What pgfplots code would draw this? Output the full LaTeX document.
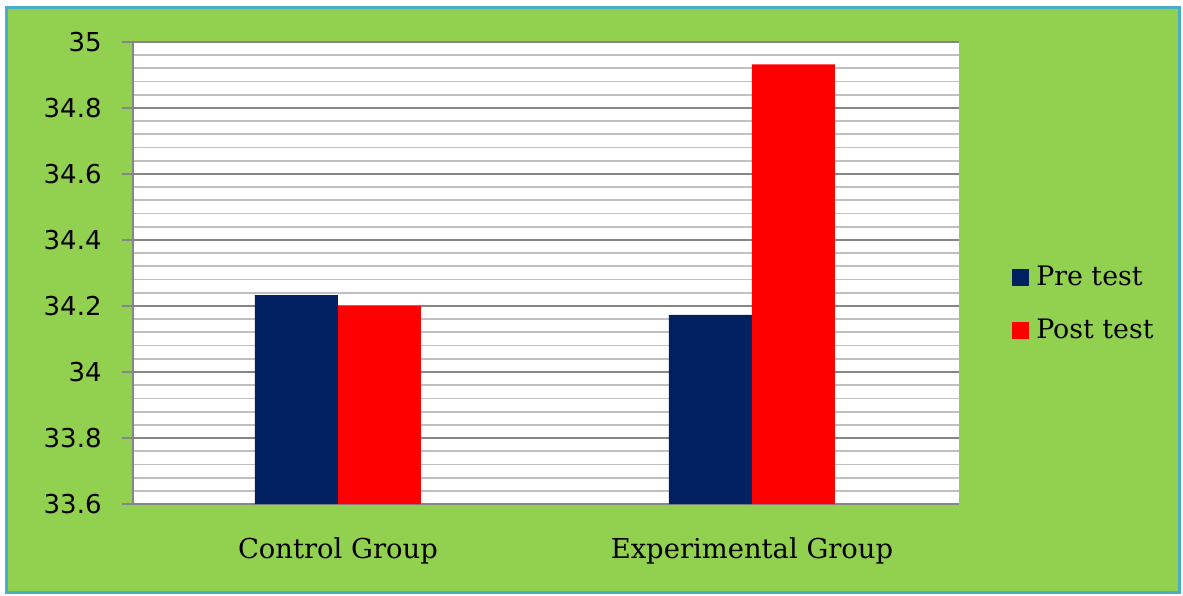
\documentclass[border=0pt]{standalone}
\usepackage{pgfplots}
\pgfplotsset{compat=1.18}
\usepackage{fontspec}
\setmainfont{DejaVu Serif}
\newfontfamily\tickfont{DejaVu Sans}
\definecolor{bggreen}{HTML}{92D050}
\definecolor{frameblue}{HTML}{4BACC6}
\definecolor{prenavy}{HTML}{002060}
\definecolor{postred}{HTML}{FF0000}
\definecolor{majgrid}{HTML}{868686}
\definecolor{mingrid}{HTML}{C0C0C0}
\begin{document}
\begin{tikzpicture}
\fill[white] (0pt,0pt) rectangle (591.5pt,297.5pt);
\filldraw[fill=bggreen, draw=frameblue, line width=1.5pt] (3pt,1.5pt) rectangle (589.5pt,293.5pt);
\begin{axis}[
  at={(66.5pt,45.5pt)}, anchor=south west,
  scale only axis,
  width=413pt, height=231pt,
  ybar=0pt, bar width=41.5pt,
  xmin=-0.495, xmax=1.5,
  ymin=33.6, ymax=35,
  xtick={0,1},
  xticklabels={Control Group, Experimental Group},
  ytick={33.6,33.8,34,34.2,34.4,34.6,34.8,35},
  minor y tick num=4,
  ymajorgrids, yminorgrids,
  major grid style={majgrid, line width=0.8pt},
  minor grid style={mingrid, line width=0.9pt},
  axis x line*=bottom, axis y line*=left,
  axis line style={majgrid, line width=0.8pt, -},
  tick align=outside,
  major tick length=5.5pt,
  minor tick length=0pt,
  xtick style={draw=none},
  ytick style={majgrid, line width=0.8pt},
  axis background/.style={fill=white},
  /pgf/number format/assume math mode=true,
  yticklabel style={font=\tickfont\fontsize{13}{15}\selectfont, anchor=east, inner sep=0pt, xshift=-10pt},
  xticklabel style={font=\fontsize{13.7}{16}\selectfont, anchor=center, inner sep=0pt, yshift=-18pt},
  legend style={at={(1.064,0.433)}, anchor=west, draw=none, fill=none,
    font=\fontsize{13.4}{16}\selectfont, row sep=11pt, inner sep=0pt,
    /tikz/every odd column/.style={column sep=1.5pt}},
  legend cell align=left,
  legend image code/.code={\fill[#1] (0pt,-4.25pt) rectangle (8.5pt,4.25pt);},
]
\addplot[fill=prenavy, draw=none] coordinates {(0,34.233) (1,34.173)};
\addplot[fill=postred, draw=none] coordinates {(0,34.2) (1,34.932)};
\legend{Pre test, Post test}
\end{axis}
\end{tikzpicture}
\end{document}
